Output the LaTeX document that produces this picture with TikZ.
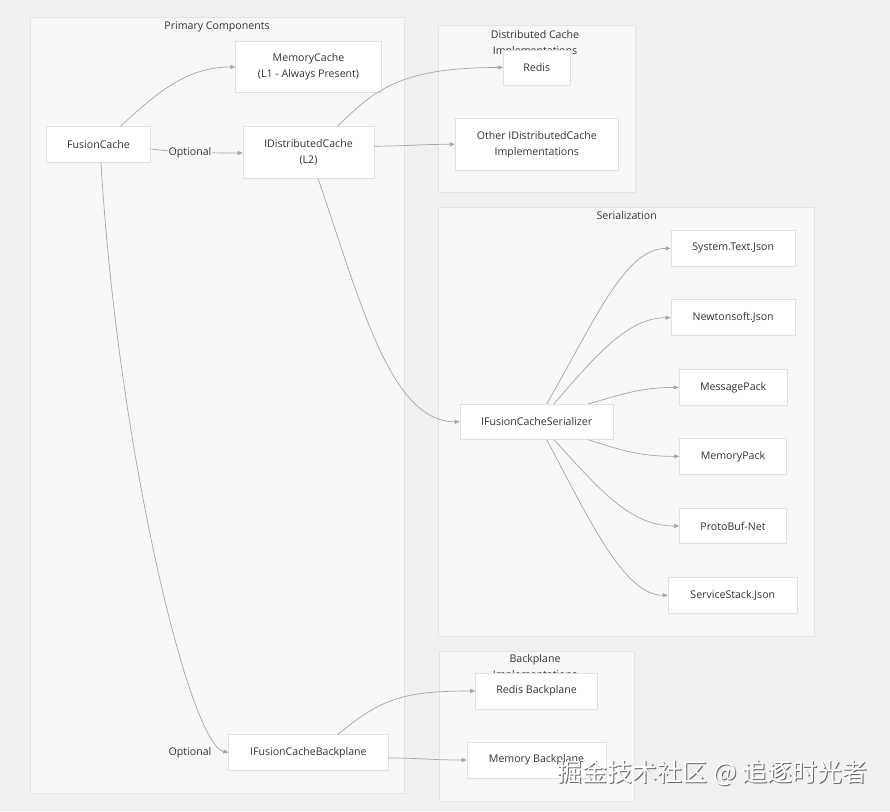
\documentclass[tikz,border=0pt]{standalone}
\usepackage{fontspec}
\setmainfont{Open Sans}
\newfontfamily\cjk{Noto Sans CJK SC}
\usetikzlibrary{arrows.meta}
\definecolor{bgc}{HTML}{F0F0F0}
\definecolor{clfill}{HTML}{F7F7F7}
\definecolor{clline}{HTML}{E3E3E3}
\definecolor{ndline}{HTML}{E0E0E0}
\definecolor{edgec}{HTML}{A6A6A6}
\definecolor{txtc}{HTML}{333333}
\tikzset{
  cluster/.style={fill=clfill, draw=clline, line width=0.8pt},
  ctitle/.style={text=txtc, font=\fontsize{10.6}{16}\selectfont, align=center},
  box/.style={rectangle, fill=white, draw=ndline, line width=0.8pt, text=txtc,
     font=\fontsize{10.6}{16}\selectfont, align=center, inner sep=0pt},
  edge/.style={draw=edgec, line width=0.7pt, -{Triangle[length=5pt,width=4pt]}},
  elabel/.style={text=txtc, font=\fontsize{10.6}{12}\selectfont, fill=clfill, inner sep=1pt},
}
\begin{document}
\begin{tikzpicture}[x=1pt,y=-1pt]
\useasboundingbox (0,0) rectangle (890,811);
\fill[bgc] (0,0) rectangle (890,811);
% clusters
\draw[cluster] (30,17.5) rectangle (404.5,793.3);
\draw[cluster] (438.3,25.7) rectangle (635,192.7);
\draw[cluster] (438.3,207.3) rectangle (814,636);
\draw[cluster] (439.5,651) rectangle (634.5,801.7);
\node[ctitle] (tprim) at (217,26.5) {Primary Components};
\node[ctitle, anchor=north] (tdist) at (535,27) {Distributed Cache\\Implementations};
\node[ctitle] (tser) at (626.7,215.5) {Serialization};
\node[ctitle, anchor=north] (tback) at (535,650.5) {Backplane\\Implementations};
% nodes
\node[box, minimum width=104.4pt, minimum height=36pt] (fc) at (98.5,144.3) {FusionCache};
\node[box, minimum width=145.6pt, minimum height=51.4pt] (mc) at (308.5,67) {MemoryCache\\(L1 - Always Present)};
\node[box, minimum width=131pt, minimum height=51.7pt] (idc) at (308.5,152.2) {IDistributedCache\\(L2)};
\node[box, minimum width=67pt, minimum height=35pt] (redis) at (536.8,67.5) {Redis};
\node[box, minimum width=163pt, minimum height=52pt] (other) at (536.8,144.3) {Other IDistributedCache\\Implementations};
\node[box, minimum width=124.3pt, minimum height=35.3pt] (stj) at (733.2,248.4) {System.Text.Json};
\node[box, minimum width=124.3pt, minimum height=36pt] (nsj) at (733.2,317.7) {Newtonsoft.Json};
\node[box, minimum width=108.3pt, minimum height=35.3pt] (mp) at (733.2,387.4) {MessagePack};
\node[box, minimum width=153.3pt, minimum height=35pt] (ser) at (536.7,421.8) {IFusionCacheSerializer};
\node[box, minimum width=106.6pt, minimum height=35.3pt] (mpk) at (733,456.4) {MemoryPack};
\node[box, minimum width=106.6pt, minimum height=35.4pt] (pb) at (733,526) {ProtoBuf-Net};
\node[box, minimum width=129pt, minimum height=36pt] (ssj) at (732.8,595.3) {ServiceStack.Json};
\node[box, minimum width=159.3pt, minimum height=35.3pt] (bp) at (308.4,752.4) {IFusionCacheBackplane};
\node[box, minimum width=122pt, minimum height=36pt] (rbp) at (536.6,691) {Redis Backplane};
\node[box, minimum width=139pt, minimum height=36pt] (mbp) at (536.5,760) {Memory Backplane};
% edges
\draw[edge] ([xshift=22.2pt]fc.north) .. controls (155,95) and (185,67) .. (mc.west);
\draw[edge] ([yshift=-4.7pt]fc.east) .. controls (175,152) and (200,153) .. ([yshift=-0.8pt]idc.west);
\node[elabel] (lopt1) at (190,153) {Optional};
\draw[edge] ([xshift=29.2pt]idc.north) .. controls (375,90) and (400,67.5) .. (redis.west);
\draw[edge] ([yshift=6pt]idc.east) .. controls (410,146) and (420,144.3) .. (other.west);
\draw[edge] ([xshift=9.5pt]idc.south) .. controls (360,300) and (390,421.8) .. (ser.west);
\draw[edge] ([xshift=2.5pt]fc.south) .. controls (118,450) and (190,745) .. (bp.west);
\node[elabel] (lopt2) at (190,753) {Optional};
\draw[edge] ([xshift=10pt]ser.north) .. controls (595,320) and (625,248.4) .. (stj.west);
\draw[edge] ([xshift=17.3pt]ser.north) .. controls (600,350) and (630,317.7) .. (nsj.west);
\draw[edge] ([xshift=51.6pt]ser.north) .. controls (620,395) and (640,387.4) .. (mp.west);
\draw[edge] ([xshift=51.6pt]ser.south) .. controls (620,450) and (640,456.4) .. (mpk.west);
\draw[edge] ([xshift=17.3pt]ser.south) .. controls (600,490) and (630,526) .. (pb.west);
\draw[edge] ([xshift=10pt]ser.south) .. controls (592,525) and (625,595.3) .. (ssj.west);
\draw[edge] ([xshift=29.6pt]bp.north) .. controls (380,700) and (400,691) .. (rbp.west);
\draw[edge] ([yshift=-5.6pt]bp.east) .. controls (420,758) and (430,760) .. (mbp.west);
% watermark
\node[text=black!60, font=\cjk\fontsize{25}{25}\selectfont] (wms) at (713.8,774.2) {掘金技术社区 @ 追逐时光者};
\node[text=white, font=\cjk\fontsize{25}{25}\selectfont] (wm) at (712.5,773) {掘金技术社区 @ 追逐时光者};
\end{tikzpicture}
\end{document}
